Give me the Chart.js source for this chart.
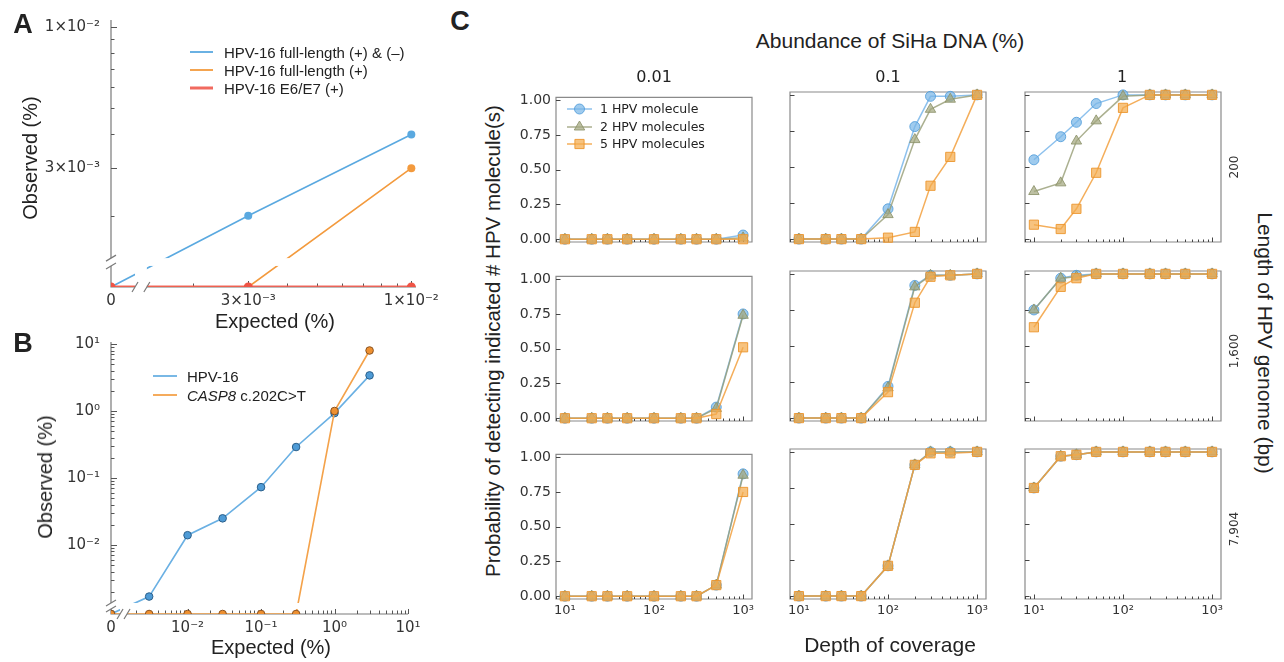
<!DOCTYPE html>
<html>
<head>
<meta charset="utf-8">
<script src="https://cdn.jsdelivr.net/npm/chart.js@4.4.1/dist/chart.umd.min.js"></script>
<style>
html,body{margin:0;padding:0;background:#fff;}
#root{position:relative;width:1284px;height:662px;overflow:hidden;background:#fff;color:#222;font-family:"Liberation Sans",Arial,sans-serif;}
#root canvas{position:absolute;}
.t{position:absolute;white-space:nowrap;line-height:1;}
</style>
</head>
<body>
<div id="root"></div>
<script>
// ---------------- DATA ----------------
// Panel A
const aExpected = [0, 0.003, 0.01];
const aFullBoth = [0, 0.002, 0.004];
const aFullPlus = [0, 0, 0.003];
const aE6E7 = [0, 0, 0];
const aXTicks = [0, 0.003, 0.01];
const aXTickLabels = ['0', '3×10⁻³', '1×10⁻²'];
const aYTicks = [0.003, 0.01];
const aYTickLabels = ['3×10⁻³', '1×10⁻²'];
const aSeriesNames = ['HPV-16 full-length (+) & (–)', 'HPV-16 full-length (+)', 'HPV-16 E6/E7 (+)'];

// Panel B
const bExpected = [0, 0.003, 0.01, 0.03, 0.1, 0.3, 1, 3];
const bHPV16 = [0, 0.0017, 0.014, 0.025, 0.073, 0.29, 0.93, 3.4];
const bCASP8 = [0, 0, 0, 0, 0, 0, 1.0, 8.0];
const bXTicks = [0, 0.01, 0.1, 1, 10];
const bXTickLabels = ['0', '10⁻²', '10⁻¹', '10⁰', '10¹'];
const bYTicks = [0.01, 0.1, 1, 10];
const bYTickLabels = ['10⁻²', '10⁻¹', '10⁰', '10¹'];

// Panel C
const depth = [10, 20, 30, 50, 100, 200, 300, 500, 1000];
const abundances = ['0.01', '0.1', '1'];
const genomeLengths = ['200', '1,600', '7,904'];
const cSeriesNames = ['1 HPV molecule', '2 HPV molecules', '5 HPV molecules'];
const cXTicks = [10, 100, 1000];
const cXTickLabels = ['10¹', '10²', '10³'];
const cYTicks = [0, 0.25, 0.5, 0.75, 1];
const cYTickLabels = ['0.00', '0.25', '0.50', '0.75', '1.00'];

const len200_ab001_m1 = [0, 0, 0, 0, 0, 0, 0, 0, 0.03];
const len200_ab001_m2 = [0, 0, 0, 0, 0, 0, 0, 0, 0.01];
const len200_ab001_m5 = [0, 0, 0, 0, 0, 0, 0, 0, 0];
const len200_ab01_m1 = [0, 0, 0, 0, 0.21, 0.78, 0.99, 0.99, 1.00];
const len200_ab01_m2 = [0, 0, 0, 0, 0.17, 0.69, 0.90, 0.97, 1.00];
const len200_ab01_m5 = [0, 0, 0, 0, 0.01, 0.05, 0.37, 0.57, 1.00];
const len200_ab1_m1 = [0.55, 0.71, 0.81, 0.94, 1.00, 1.00, 1.00, 1.00, 1.00];
const len200_ab1_m2 = [0.33, 0.39, 0.68, 0.82, 0.99, 1.00, 1.00, 1.00, 1.00];
const len200_ab1_m5 = [0.10, 0.07, 0.21, 0.46, 0.91, 1.00, 1.00, 1.00, 1.00];

const len1600_ab001_m1 = [0, 0, 0, 0, 0, 0, 0, 0.08, 0.75];
const len1600_ab001_m2 = [0, 0, 0, 0, 0, 0, 0, 0.07, 0.74];
const len1600_ab001_m5 = [0, 0, 0, 0, 0, 0, 0, 0.03, 0.51];
const len1600_ab01_m1 = [0, 0, 0, 0, 0.22, 0.92, 0.99, 0.99, 1.00];
const len1600_ab01_m2 = [0, 0, 0, 0, 0.21, 0.91, 0.99, 0.99, 1.00];
const len1600_ab01_m5 = [0, 0, 0, 0, 0.18, 0.80, 0.98, 0.99, 1.00];
const len1600_ab1_m1 = [0.75, 0.97, 0.99, 1.00, 1.00, 1.00, 1.00, 1.00, 1.00];
const len1600_ab1_m2 = [0.75, 0.97, 0.98, 1.00, 1.00, 1.00, 1.00, 1.00, 1.00];
const len1600_ab1_m5 = [0.63, 0.91, 0.97, 1.00, 1.00, 1.00, 1.00, 1.00, 1.00];

const len7904_ab001_m1 = [0, 0, 0, 0, 0, 0, 0, 0.08, 0.88];
const len7904_ab001_m2 = [0, 0, 0, 0, 0, 0, 0, 0.08, 0.87];
const len7904_ab001_m5 = [0, 0, 0, 0, 0, 0, 0, 0.08, 0.75];
const len7904_ab01_m1 = [0, 0, 0, 0, 0.21, 0.91, 1.00, 1.00, 1.00];
const len7904_ab01_m2 = [0, 0, 0, 0, 0.21, 0.91, 1.00, 1.00, 1.00];
const len7904_ab01_m5 = [0, 0, 0, 0, 0.21, 0.91, 0.99, 0.99, 1.00];
const len7904_ab1_m1 = [0.75, 0.97, 0.98, 1.00, 1.00, 1.00, 1.00, 1.00, 1.00];
const len7904_ab1_m2 = [0.75, 0.97, 0.98, 1.00, 1.00, 1.00, 1.00, 1.00, 1.00];
const len7904_ab1_m5 = [0.75, 0.97, 0.98, 1.00, 1.00, 1.00, 1.00, 1.00, 1.00];

// ---------------- HELPERS ----------------
const root = document.getElementById('root');
const LOG = Math.log10;
const SANS = '"Liberation Sans", Arial, sans-serif';
const DJV = '"DejaVu Sans", sans-serif';

function mkCanvas(left, top, w, h) {
  const c = document.createElement('canvas');
  c.width = w; c.height = h;
  c.style.left = left + 'px'; c.style.top = top + 'px';
  c.style.width = w + 'px'; c.style.height = h + 'px';
  root.appendChild(c);
  return c;
}
function addText(html, x, y, o) {
  const d = document.createElement('div');
  d.className = 't';
  d.innerHTML = html;
  d.style.left = x + 'px'; d.style.top = y + 'px';
  d.style.fontSize = o.size + 'px';
  d.style.fontFamily = o.family || SANS;
  d.style.fontWeight = o.bold ? 'bold' : 'normal';
  d.style.color = o.color || '#222';
  if (o.anchor === 'left') d.style.transform = 'translate(0,-50%)';
  else d.style.transform = 'translate(-50%,-50%) rotate(' + (o.rot || 0) + 'deg)';
  root.appendChild(d);
}
function minorLog(kFrom, kTo) {
  const out = [];
  for (let k = kFrom; k <= kTo; k++) for (let m = 2; m <= 9; m++) out.push(m * Math.pow(10, k));
  return out;
}

// decoration plugin: spines, inward ticks, axis breaks
function deco(cfg) {
  return {
    id: 'deco',
    beforeDatasetsDraw(chart) {
      const {ctx, chartArea: a} = chart;
      const xs = chart.scales.x, ys = chart.scales.y;
      ctx.save();
      ctx.strokeStyle = cfg.spine; ctx.lineWidth = cfg.spineW;
      ctx.beginPath();
      if (cfg.box) ctx.rect(a.left, a.top, a.right - a.left, a.bottom - a.top);
      else { ctx.moveTo(a.left, a.top); ctx.lineTo(a.left, a.bottom); ctx.lineTo(a.right, a.bottom); }
      ctx.stroke();
      ctx.strokeStyle = cfg.tick; ctx.lineWidth = 1;
      ctx.beginPath();
      const xt = (vals, len) => vals.forEach(v => {
        const p = xs.getPixelForValue(cfg.tx ? cfg.tx(v) : v);
        if (p < a.left - 0.5 || p > a.right + 0.5) return;
        const q = Math.round(p) + 0.5;
        ctx.moveTo(q, a.bottom); ctx.lineTo(q, a.bottom - len);
      });
      const yt = (vals, len) => vals.forEach(v => {
        const p = ys.getPixelForValue(cfg.tx ? cfg.tx(v) : v);
        if (p < a.top - 0.5 || p > a.bottom + 0.5) return;
        const q = Math.round(p) + 0.5;
        ctx.moveTo(a.left, q); ctx.lineTo(a.left + len, q);
      });
      xt(cfg.xMajor || [], cfg.majLen); xt(cfg.xMinor || [], cfg.minLen);
      yt(cfg.yMajor || [], cfg.majLen); yt(cfg.yMinor || [], cfg.minLen);
      ctx.stroke();
      ctx.restore();
    },
    afterDatasetsDraw(chart) {
      const {ctx, chartArea: a} = chart;
      const xs = chart.scales.x, ys = chart.scales.y;
      ctx.save();
      ctx.fillStyle = '#fff';
      ctx.strokeStyle = cfg.spine; ctx.lineWidth = 1.2;
      if (cfg.bandY) {
        const p1 = ys.getPixelForValue(cfg.bandY[1]), p2 = ys.getPixelForValue(cfg.bandY[0]);
        ctx.fillRect(a.left - 8, p1, a.right - a.left + 16, p2 - p1);
        ctx.beginPath();
        [p1, p2].forEach(p => { ctx.moveTo(a.left - 5, p + 3); ctx.lineTo(a.left + 5, p - 3); });
        ctx.stroke();
      }
      if (cfg.bandX) {
        const p1 = xs.getPixelForValue(cfg.bandX[0]), p2 = xs.getPixelForValue(cfg.bandX[1]);
        ctx.fillRect(p1, a.top - 4, p2 - p1, a.bottom - a.top + 10);
        ctx.beginPath();
        [p1, p2].forEach(p => { ctx.moveTo(p - 3, a.bottom + 5); ctx.lineTo(p + 3, a.bottom - 5); });
        ctx.stroke();
      }
      ctx.restore();
    }
  };
}

function baseOptions() {
  return {
    responsive: false, devicePixelRatio: 1, animation: false, events: [],
    plugins: {legend: {display: false}, tooltip: {enabled: false}},
  };
}
function axis(o) {
  return {
    type: o.type || 'linear', min: o.min, max: o.max, bounds: 'data',
    grid: {display: false, drawTicks: false}, border: {display: false},
    afterFit: o.fit,
    afterBuildTicks: s => { s.ticks = o.ticks.map(v => ({value: v})); },
    ticks: {
      display: o.show !== false, autoSkip: false, maxRotation: 0, minRotation: 0,
      padding: o.pad, color: '#333', font: {family: 'DejaVu Sans', size: o.size},
      callback: (v, i) => o.labels[i]
    }
  };
}

// ---------------- PANEL A ----------------
const A_ZERO = -2.963;
const ta = v => v > 0 ? LOG(v) : A_ZERO;
const ptsA = (ys) => aExpected.map((e, i) => ({x: ta(e), y: ta(ys[i])}));
const BLUE_A = '#5aa9e0', ORANGE_A = '#f39a3d', RED_A = '#ef5446';
{
  const cv = mkCanvas(0, 0, 450, 330);
  const opt = baseOptions();
  opt.layout = {padding: {top: 20, right: 34, left: 0, bottom: 0}};
  opt.scales = {
    x: axis({min: A_ZERO, max: -1.985, ticks: aXTicks.map(ta), labels: aXTickLabels, pad: 5, size: 15, fit: s => { s.height = 43; }}),
    y: axis({min: A_ZERO, max: -1.974, ticks: aYTicks.map(ta), labels: aYTickLabels, pad: 11, size: 15, fit: s => { s.width = 111; }})
  };
  new Chart(cv, {
    type: 'line',
    data: {datasets: [
      {label: aSeriesNames[0], data: ptsA(aFullBoth), borderColor: BLUE_A, backgroundColor: BLUE_A, borderWidth: 1.6, pointRadius: 4, pointBorderWidth: 0, clip: 0, order: 3},
      {label: aSeriesNames[1], data: ptsA(aFullPlus), borderColor: ORANGE_A, backgroundColor: ORANGE_A, borderWidth: 1.6, pointRadius: 4, pointBorderWidth: 0, clip: 0, order: 2},
      {label: aSeriesNames[2], data: ptsA(aE6E7), borderColor: 'rgba(240,90,78,0.9)', backgroundColor: RED_A, borderWidth: 3, pointRadius: 4.5, pointBorderWidth: 0, clip: 0, order: 1}
    ]},
    options: opt,
    plugins: [deco({
      spine: '#7a7a7a', spineW: 1.2, tick: '#555', majLen: 6, minLen: 3.5, tx: ta,
      xMajor: [0.003, 0.01], xMinor: [0.002, 0.004, 0.005, 0.006, 0.007, 0.008, 0.009],
      yMajor: [0.003, 0.01], yMinor: [0.002, 0.004, 0.005, 0.006, 0.007, 0.008, 0.009],
      bandX: [-2.886, -2.848], bandY: [-2.885, -2.856]
    })]
  });
}

// ---------------- PANEL B ----------------
const B_ZERO = -3.03, B_XZERO = -3.042;
const tbx = v => v > 0 ? LOG(v) : B_XZERO;
const tby = v => v > 0 ? LOG(v) : B_ZERO;
const ptsB = (ys) => bExpected.map((e, i) => ({x: tbx(e), y: tby(ys[i])}));
{
  const cv = mkCanvas(0, 320, 450, 342);
  const opt = baseOptions();
  opt.layout = {padding: {top: 22, right: 42, left: 0, bottom: 0}};
  opt.scales = {
    x: axis({min: B_XZERO, max: 1.0, ticks: bXTicks.map(tbx), labels: bXTickLabels, pad: 5, size: 15, fit: s => { s.height = 48; }}),
    y: axis({min: B_ZERO, max: 1.03, ticks: bYTicks.map(tby), labels: bYTickLabels, pad: 11, size: 15, fit: s => { s.width = 111; }})
  };
  new Chart(cv, {
    type: 'line',
    data: {datasets: [
      {label: 'HPV-16', data: ptsB(bHPV16), borderColor: '#6ab0e3', backgroundColor: '#4e9bd6', pointBorderColor: '#2b5f8a', borderWidth: 1.6, pointRadius: 3.8, pointBorderWidth: 1, clip: 0, order: 2},
      {label: 'CASP8 c.202C>T', data: ptsB(bCASP8), borderColor: '#f4a24a', backgroundColor: '#ee9030', pointBorderColor: '#8a5220', borderWidth: 1.6, pointRadius: 3.8, pointBorderWidth: 1, clip: 0, order: 1}
    ]},
    options: opt,
    plugins: [deco({
      spine: '#7a7a7a', spineW: 1.2, tick: '#555', majLen: 6, minLen: 3.5,
      tx: v => LOG(v),
      xMajor: [0.01, 0.1, 1, 10], xMinor: minorLog(-3, 0).filter(v => LOG(v) > -2.82),
      yMajor: [0.01, 0.1, 1, 10], yMinor: minorLog(-3, 0).filter(v => LOG(v) > -2.86),
      bandX: [-2.919, -2.824], bandY: [-2.955, -2.866]
    })]
  });
}

// ---------------- PANEL C ----------------
const cGrid = [
  [[len200_ab001_m1, len200_ab001_m2, len200_ab001_m5], [len200_ab01_m1, len200_ab01_m2, len200_ab01_m5], [len200_ab1_m1, len200_ab1_m2, len200_ab1_m5]],
  [[len1600_ab001_m1, len1600_ab001_m2, len1600_ab001_m5], [len1600_ab01_m1, len1600_ab01_m2, len1600_ab01_m5], [len1600_ab1_m1, len1600_ab1_m2, len1600_ab1_m5]],
  [[len7904_ab001_m1, len7904_ab001_m2, len7904_ab001_m5], [len7904_ab01_m1, len7904_ab01_m2, len7904_ab01_m5], [len7904_ab1_m1, len7904_ab1_m2, len7904_ab1_m5]]
];
const cStyles = [
  {line: 'rgba(112,178,232,0.8)', fill: 'rgba(122,183,232,0.72)', edge: 'rgba(82,158,218,0.85)', shape: 'circle', r: 5},
  {line: 'rgba(150,156,116,0.8)', fill: 'rgba(163,168,128,0.72)', edge: 'rgba(140,146,106,0.85)', shape: 'triangle', r: 6},
  {line: 'rgba(242,160,62,0.85)', fill: 'rgba(244,172,78,0.72)', edge: 'rgba(236,150,46,0.9)', shape: 'rect', r: 6.5}
];
const cLefts = [556, 790, 1025], cTops = [92, 271, 449];
const CW = 196, CH = 150, ML = 50, MB = 26, MT = 8, MR = 8;
const cMinorX = minorLog(0, 3).filter(v => v > Math.pow(10, 0.9) && v < Math.pow(10, 3.1));
for (let r = 0; r < 3; r++) {
  for (let c = 0; c < 3; c++) {
    const cv = mkCanvas(cLefts[c] - ML, cTops[r] - MT, CW + ML + MR, CH + MT + MB);
    const opt = baseOptions();
    opt.layout = {padding: {top: MT, right: MR, left: 0, bottom: 0}};
    opt.scales = {
      x: axis({type: 'logarithmic', min: Math.pow(10, 0.9), max: Math.pow(10, 3.1), ticks: cXTicks, labels: cXTickLabels, pad: 4, size: 13, show: r === 2, fit: s => { s.height = MB; }}),
      y: axis({min: -0.02, max: 1.02, ticks: cYTicks, labels: cYTickLabels, pad: 5, size: 14, show: c === 0, fit: s => { s.width = ML; }})
    };
    const ds = cGrid[r][c].map((vals, k) => ({
      label: cSeriesNames[k],
      data: depth.map((d, i) => ({x: d, y: vals[i]})),
      borderColor: cStyles[k].line, borderWidth: 1.5,
      pointStyle: cStyles[k].shape, pointRadius: cStyles[k].r,
      pointBackgroundColor: cStyles[k].fill, pointBorderColor: cStyles[k].edge, pointBorderWidth: 1,
      clip: false, order: 3 - k
    }));
    new Chart(cv, {type: 'line', data: {datasets: ds}, options: opt,
      plugins: [deco({spine: '#8a8a8a', spineW: 1.2, box: true, tick: '#444', majLen: 4.5, minLen: 2.5,
        xMajor: cXTicks, xMinor: cMinorX, yMajor: cYTicks})]});
  }
}

// ---------------- TEXT ----------------
addText('A', 23, 24, {size: 27, bold: true});
addText('B', 23, 343, {size: 27, bold: true});
addText('C', 460, 21, {size: 27, bold: true});
addText('Observed (%)', 30, 158, {size: 20, rot: -90});
addText('Expected (%)', 275, 321, {size: 20});
addText('Observed (%)', 45, 477, {size: 20, rot: -90});
addText('Expected (%)', 271, 647, {size: 20});
addText('Abundance of SiHa DNA (%)', 890, 40, {size: 21});
addText('Depth of coverage', 890, 644, {size: 21});
addText('Probability of detecting indicated # HPV molecule(s)', 493, 341, {size: 20.5, rot: -90});
addText('Length of HPV genome (bp)', 1265, 343, {size: 21, rot: 90});
const colCenters = [654, 888, 1122];
abundances.forEach((t, i) => addText(t, colCenters[i], 77, {size: 16, family: DJV}));
const rowCenters = [167, 351, 529];
genomeLengths.forEach((t, i) => addText(t, 1234, rowCenters[i], {size: 12, family: DJV, rot: -90, color: '#333'}));

// legends
const ov = mkCanvas(0, 0, 1284, 662);
const g = ov.getContext('2d');
function sw(x1, x2, y, color, w) { g.strokeStyle = color; g.lineWidth = w; g.beginPath(); g.moveTo(x1, y); g.lineTo(x2, y); g.stroke(); }
const aLegY = [52, 70, 88];
[BLUE_A, ORANGE_A, 'rgba(240,90,78,0.9)'].forEach((col, i) => {
  sw(190, 213, aLegY[i], col, i === 2 ? 3 : 1.8);
  addText(aSeriesNames[i], 224, aLegY[i], {size: 15, anchor: 'left'});
});
const bLegY = [376, 395];
sw(153, 177, bLegY[0], '#6ab0e3', 1.8);
sw(153, 177, bLegY[1], '#f4a24a', 1.8);
addText('HPV-16', 187, bLegY[0], {size: 15, anchor: 'left'});
addText('<i>CASP8</i> c.202C&gt;T', 187, bLegY[1], {size: 15, anchor: 'left'});
const cLegY = [109, 127, 144];
cStyles.forEach((st, k) => {
  const y = cLegY[k], cx = 579.5;
  sw(567, 592, y, st.line, 1.5);
  g.fillStyle = st.fill; g.strokeStyle = st.edge; g.lineWidth = 1;
  g.beginPath();
  if (st.shape === 'circle') g.arc(cx, y, st.r, 0, Math.PI * 2);
  else if (st.shape === 'triangle') { g.moveTo(cx, y - st.r); g.lineTo(cx - st.r * 0.866, y + st.r * 0.5); g.lineTo(cx + st.r * 0.866, y + st.r * 0.5); g.closePath(); }
  else { const h = st.r * Math.SQRT1_2; g.rect(cx - h, y - h, 2 * h, 2 * h); }
  g.fill(); g.stroke();
  addText(cSeriesNames[k], 600, y, {size: 12.5, family: DJV, anchor: 'left'});
});
</script>
</body>
</html>
